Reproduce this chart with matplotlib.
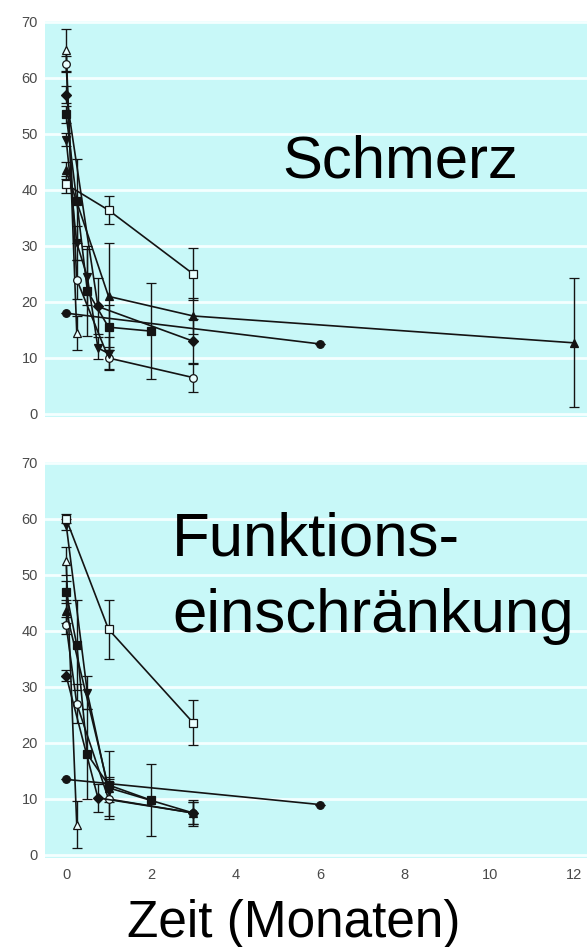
import numpy as np
import matplotlib.pyplot as plt

plt.rcParams['font.family'] = ['Liberation Sans', 'DejaVu Sans']

# Schmerz (pain) - months, values, errors per study
schmerz_months = [
    [0, 0.25],
    [0, 0.25, 1, 3],
    [0, 0.75, 3],
    [0, 0.25, 0.5, 1, 2],
    [0, 0.25, 0.5, 0.75, 1],
    [0, 1, 3, 12],
    [0, 1, 3],
    [0, 6],
]
schmerz_values = [
    [65, 14.5],
    [62.5, 24, 10, 6.5],
    [57, 19.2, 13],
    [53.5, 38, 22, 15.5, 14.8],
    [49, 30.5, 24.5, 11.8, 10.8],
    [43.5, 21, 17.5, 12.7],
    [41, 36.4, 25],
    [18, 12.5],
]
schmerz_errors = [
    [3.7, 3.0],
    [1.5, 3.5, 2.0, 2.6],
    [1.5, 5.0, 4.0],
    [1.5, 7.5, 8.0, 4.0, 8.5],
    [1.2, 3.0, 5.0, 2.0, 3.0],
    [1.5, 9.5, 3.2, 11.5],
    [1.5, 2.5, 4.6],
    [0, 0],
]

# Funktionseinschraenkung (impairment)
funktion_months = [
    [0, 0.25],
    [0, 0.25, 1, 3],
    [0, 0.75, 3],
    [0, 0.25, 0.5, 1, 2],
    [0, 0.5, 1],
    [0, 1, 3],
    [0, 1, 3],
    [0, 6],
]
funktion_values = [
    [52.5, 5.4],
    [41, 27, 10, 7.5],
    [32, 10.2, 7.5],
    [47, 37.5, 18, 12.5, 9.8],
    [59, 29, 11.5],
    [43.5, 12, 7.5],
    [60, 40.3, 23.6],
    [13.5, 9],
]
funktion_errors = [
    [2.5, 4.2],
    [1.5, 3.5, 3.0, 2.0],
    [1.0, 2.5, 2.3],
    [2.0, 8.0, 8.0, 6.0, 6.4],
    [1.0, 3.0, 2.0],
    [2.0, 2.0, 2.0],
    [0.8, 5.3, 4.0],
    [0, 0],
]

# marker, filled?
styles = [('^', False), ('o', False), ('D', True), ('s', True),
          ('v', True), ('^', True), ('s', False), ('o', True)]

bg = '#c8f8f8'
ink = '#141414'

fig = plt.figure(figsize=(5.87, 9.47), dpi=100)
ax1 = fig.add_axes([45 / 587, 1 - 416.8 / 947, 1 - 45 / 587, 396 / 947])
ax2 = fig.add_axes([45 / 587, 1 - 857.8 / 947, 1 - 45 / 587, 396 / 947])


def draw_panel(ax, months, values, errors):
    ax.set_facecolor(bg)
    for (m, filled), x, y, e in zip(styles, months, values, errors):
        face = ink if filled else '#eaffff'
        ms = 4.8 if m == 'D' else 5.5
        ax.errorbar(x, y, yerr=e, fmt='-', marker=m, color=ink, lw=1.2,
                    ms=ms, mfc=face, mec=ink, mew=0.9,
                    elinewidth=1.0, capsize=3.5, capthick=1.0, zorder=3)
    ax.set_xlim(-0.5, 12.3)
    ax.set_ylim(-0.5, 70.2)
    ax.set_yticks(range(0, 80, 10))
    ax.set_xticks(range(0, 14, 2))
    ax.grid(axis='y', color='#f4ffff', lw=2.0)
    ax.grid(axis='x', visible=False)
    ax.set_axisbelow(True)
    for s in ax.spines.values():
        s.set_visible(False)
    ax.tick_params(length=0, labelsize=10.5, labelcolor='#4a4a4a', pad=5)


draw_panel(ax1, schmerz_months, schmerz_values, schmerz_errors)
draw_panel(ax2, funktion_months, funktion_values, funktion_errors)
ax1.tick_params(labelbottom=False)
ax2.tick_params(axis='x', pad=7)

fig.text(282 / 587, 1 - 177 / 947, 'Schmerz', fontsize=43, va='baseline', ha='left')
fig.text(172 / 587, 1 - 555 / 947, 'Funktions-', fontsize=44.5, va='baseline', ha='left')
fig.text(172 / 587, 1 - 632 / 947, 'einschränkung', fontsize=44.5, va='baseline', ha='left')
fig.text(127 / 587, 1 - 937 / 947, 'Zeit (Monaten)', fontsize=37, va='baseline', ha='left')

fig.savefig('out.png', dpi=100, facecolor='white')
